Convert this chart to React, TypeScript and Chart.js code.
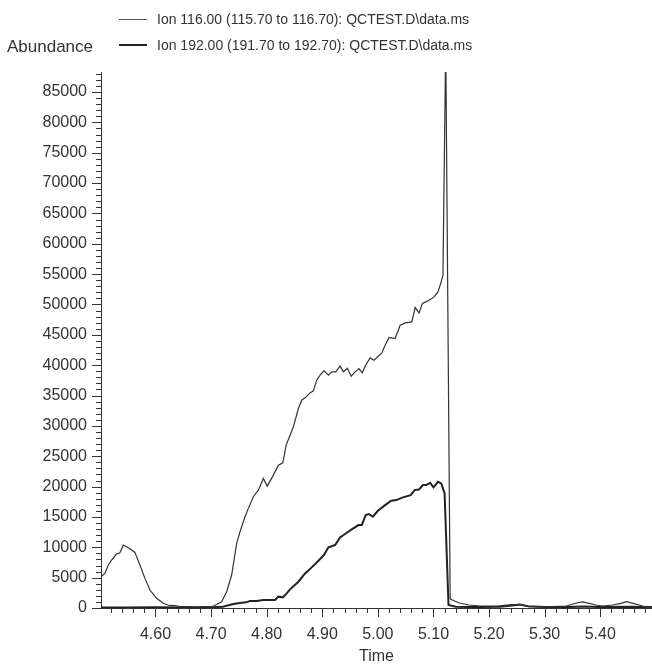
import React, { useEffect, useRef } from "react";
import { Chart, registerables } from "chart.js";

Chart.register(...registerables);

// ---- data ----
const times116 = [
  4.502, 4.509, 4.515, 4.521, 4.530, 4.536, 4.542, 4.552, 4.563, 4.572, 4.581, 4.590, 4.602, 4.614,
  4.626, 4.632, 4.645, 4.660, 4.675, 4.690, 4.698, 4.704, 4.719, 4.728, 4.737, 4.746, 4.752, 4.761,
  4.767, 4.776, 4.785, 4.794, 4.801, 4.812, 4.821, 4.829, 4.835, 4.841, 4.848, 4.857, 4.863, 4.871,
  4.878, 4.884, 4.890, 4.896, 4.903, 4.911, 4.917, 4.924, 4.932, 4.938, 4.945, 4.952, 4.959, 4.966,
  4.972, 4.978, 4.986, 4.993, 5.007, 5.013, 5.020, 5.031, 5.040, 5.049, 5.061, 5.067, 5.074, 5.080,
  5.090, 5.101, 5.108, 5.113, 5.117, 5.122, 5.130, 5.134, 5.145, 5.163, 5.184, 5.215, 5.240, 5.255,
  5.272, 5.300, 5.339, 5.359, 5.368, 5.380, 5.392, 5.404, 5.422, 5.437, 5.447, 5.459, 5.470, 5.482,
  5.493,
];
const abundance116 = [
  5150, 5700, 7080, 7900, 8890, 9110, 10370, 9900, 9160, 7080, 4880, 2960, 1590, 770,
  380, 420, 250, 220, 200, 250, 200, 300, 1040, 2690, 5430, 10650, 12560, 15030,
  16410, 18330, 19420, 21350, 20080, 21890, 23540, 23920, 26830, 28200, 29850, 32870, 34240, 34780,
  35440, 35770, 37530, 38350, 39060, 38350, 38900, 38900, 39840, 38900, 39500, 38190, 38900, 39450,
  38740, 40000, 41200, 40820, 42030, 43290, 44560, 44390, 46580, 46970, 47130, 49500, 48610, 50160,
  50590, 51250, 52070, 53450, 54810, 93000, 1500, 1320, 870, 490, 330, 330, 570, 570,
  220, 200, 330, 870, 1000, 770, 490, 330, 490, 770, 1040, 770, 490, 100,
  100,
];
const times192 = [
  4.502, 4.550, 4.600, 4.650, 4.697, 4.721, 4.740, 4.755, 4.763, 4.770, 4.782, 4.794, 4.815, 4.821,
  4.829, 4.836, 4.842, 4.857, 4.869, 4.881, 4.893, 4.903, 4.911, 4.923, 4.932, 4.944, 4.953, 4.965,
  4.971, 4.978, 4.984, 4.991, 5.000, 5.013, 5.024, 5.033, 5.045, 5.059, 5.066, 5.074, 5.081, 5.087,
  5.094, 5.100, 5.108, 5.114, 5.120, 5.127, 5.140, 5.170, 5.220, 5.245, 5.255, 5.270, 5.300, 5.340,
  5.370, 5.400, 5.450, 5.493,
];
const abundance192 = [
  100, 100, 120, 100, 100, 200, 660, 870, 930, 1150, 1150, 1320, 1320, 1870,
  1760, 2410, 3070, 4330, 5700, 6690, 7790, 8720, 9990, 10370, 11640, 12400, 12950, 13660,
  13660, 15310, 15470, 15030, 16020, 16950, 17660, 17780, 18220, 18600, 19420, 19530, 20250, 20250,
  20630, 19870, 20790, 20520, 18880, 490, 220, 150, 200, 450, 570, 300, 150, 150,
  250, 150, 200, 150,
];
const seriesLabels = [
  "Ion 116.00 (115.70 to 116.70): QCTEST.D\\data.ms",
  "Ion 192.00 (191.70 to 192.70): QCTEST.D\\data.ms",
];
const yAxisLabel = "Abundance";
const xAxisLabel = "Time";

// tick labels
const xTickValues = [4.6, 4.7, 4.8, 4.9, 5.0, 5.1, 5.2, 5.3, 5.4];
const yTickValues = [
  0, 5000, 10000, 15000, 20000, 25000, 30000, 35000, 40000, 45000, 50000, 55000, 60000, 65000,
  70000, 75000, 80000, 85000,
];

const X_MIN = 4.502;
const X_MAX = 5.493;
const X_MINOR = 0.02;
const X_MAJOR = 0.1;
const Y_MIN = 0;
const Y_MAX = 88300;
const Y_MINOR = 1000;
const Y_MAJOR = 5000;

const FONT = "'Liberation Sans', Arial, sans-serif";
const TEXT = "#333";

const isMultiple = (v: number, m: number) => Math.abs(v / m - Math.round(v / m)) < 1e-6;

const tickPlugin = {
  id: "majorMinorTicks",
  afterDraw(chart: any) {
    const { ctx, chartArea } = chart;
    const x = chart.scales.x;
    const y = chart.scales.y;
    ctx.save();
    ctx.strokeStyle = TEXT;
    ctx.lineWidth = 1;
    ctx.beginPath();
    const xStart = Math.ceil(X_MIN / X_MINOR - 1e-9);
    const xEnd = Math.floor(X_MAX / X_MINOR + 1e-9);
    for (let k = xStart; k <= xEnd; k++) {
      const v = k * X_MINOR;
      const px = Math.round(x.getPixelForValue(v)) + 0.5;
      const len = isMultiple(v, X_MAJOR) ? 9 : 5;
      ctx.moveTo(px, chartArea.bottom);
      ctx.lineTo(px, chartArea.bottom + len);
    }
    const yStart = Math.ceil(Y_MIN / Y_MINOR);
    const yEnd = Math.floor(Y_MAX / Y_MINOR);
    for (let k = yStart; k <= yEnd; k++) {
      const v = k * Y_MINOR;
      const py = Math.round(y.getPixelForValue(v)) + 0.5;
      const len = isMultiple(v, Y_MAJOR) ? 9 : 5;
      ctx.moveTo(chartArea.left, py);
      ctx.lineTo(chartArea.left - len, py);
    }
    ctx.stroke();
    ctx.restore();
  },
};

export default function App() {
  const canvasRef = useRef<HTMLCanvasElement | null>(null);

  useEffect(() => {
    document.body.style.margin = "0";
    const canvas = canvasRef.current;
    if (!canvas) return;
    const chart = new Chart(canvas, {
      type: "line",
      data: {
        datasets: [
          {
            label: seriesLabels[0],
            data: times116.map((t, i) => ({ x: t, y: abundance116[i] })),
            borderColor: "#333",
            borderWidth: 1.2,
            pointRadius: 0,
            tension: 0,
          },
          {
            label: seriesLabels[1],
            data: times192.map((t, i) => ({ x: t, y: abundance192[i] })),
            borderColor: "#222",
            borderWidth: 2,
            pointRadius: 0,
            tension: 0,
          },
        ],
      },
      options: {
        animation: false,
        responsive: false,
        events: [],
        layout: { padding: { left: 0, right: 0, top: 72, bottom: 0 } },
        plugins: { legend: { display: false }, title: { display: false }, tooltip: { enabled: false } },
        scales: {
          x: {
            type: "linear",
            min: X_MIN,
            max: X_MAX,
            afterBuildTicks: (s: any) => {
              s.ticks = xTickValues.map((v) => ({ value: v }));
            },
            afterFit: (s: any) => {
              s.height = 59;
            },
            border: { display: true, color: TEXT, width: 1 },
            grid: { display: true, drawOnChartArea: false, drawTicks: true, tickLength: 9, tickColor: "rgba(0,0,0,0)" },
            ticks: {
              autoSkip: false,
              maxRotation: 0,
              minRotation: 0,
              padding: 8,
              color: TEXT,
              font: { family: FONT, size: 16 },
              callback: (v: any) => Number(v).toFixed(2),
            },
            title: {
              display: true,
              text: xAxisLabel,
              color: TEXT,
              font: { family: FONT, size: 16 },
              padding: { top: 0, bottom: 1 },
            },
          },
          y: {
            type: "linear",
            min: Y_MIN,
            max: Y_MAX,
            afterBuildTicks: (s: any) => {
              s.ticks = yTickValues.map((v) => ({ value: v }));
            },
            afterFit: (s: any) => {
              s.width = 101;
            },
            border: { display: true, color: TEXT, width: 1 },
            grid: { display: true, drawOnChartArea: false, drawTicks: true, tickLength: 9, tickColor: "rgba(0,0,0,0)" },
            ticks: {
              autoSkip: false,
              padding: 5,
              color: TEXT,
              font: { family: FONT, size: 16 },
              callback: (v: any) => String(v),
            },
          },
        },
      },
      plugins: [tickPlugin],
    } as any);
    return () => chart.destroy();
  }, []);

  const legendRow = (top: number, thickness: number, color: string, text: string) => (
    <div style={{ position: "absolute", left: 0, top: top - 10, height: 20, width: 652 }}>
      <div style={{ position: "absolute", left: 119, top: 10 - thickness / 2, width: 28, height: thickness, background: color }} />
      <div style={{ position: "absolute", left: 157, top: 0, lineHeight: "20px", fontSize: 14, fontFamily: FONT, color: TEXT, whiteSpace: "nowrap" }}>
        {text}
      </div>
    </div>
  );

  return (
    <div style={{ position: "relative", width: 652, height: 667, background: "#fff", overflow: "hidden" }}>
      <canvas ref={canvasRef} width={652} height={667} style={{ position: "absolute", left: 0, top: 0, width: 652, height: 667 }} />
      {legendRow(19, 1, "#555", seriesLabels[0])}
      {legendRow(45, 2, "#222", seriesLabels[1])}
      <div style={{ position: "absolute", left: 7, top: 36, lineHeight: "22px", fontSize: 17, fontFamily: FONT, color: TEXT }}>
        {yAxisLabel}
      </div>
    </div>
  );
}
